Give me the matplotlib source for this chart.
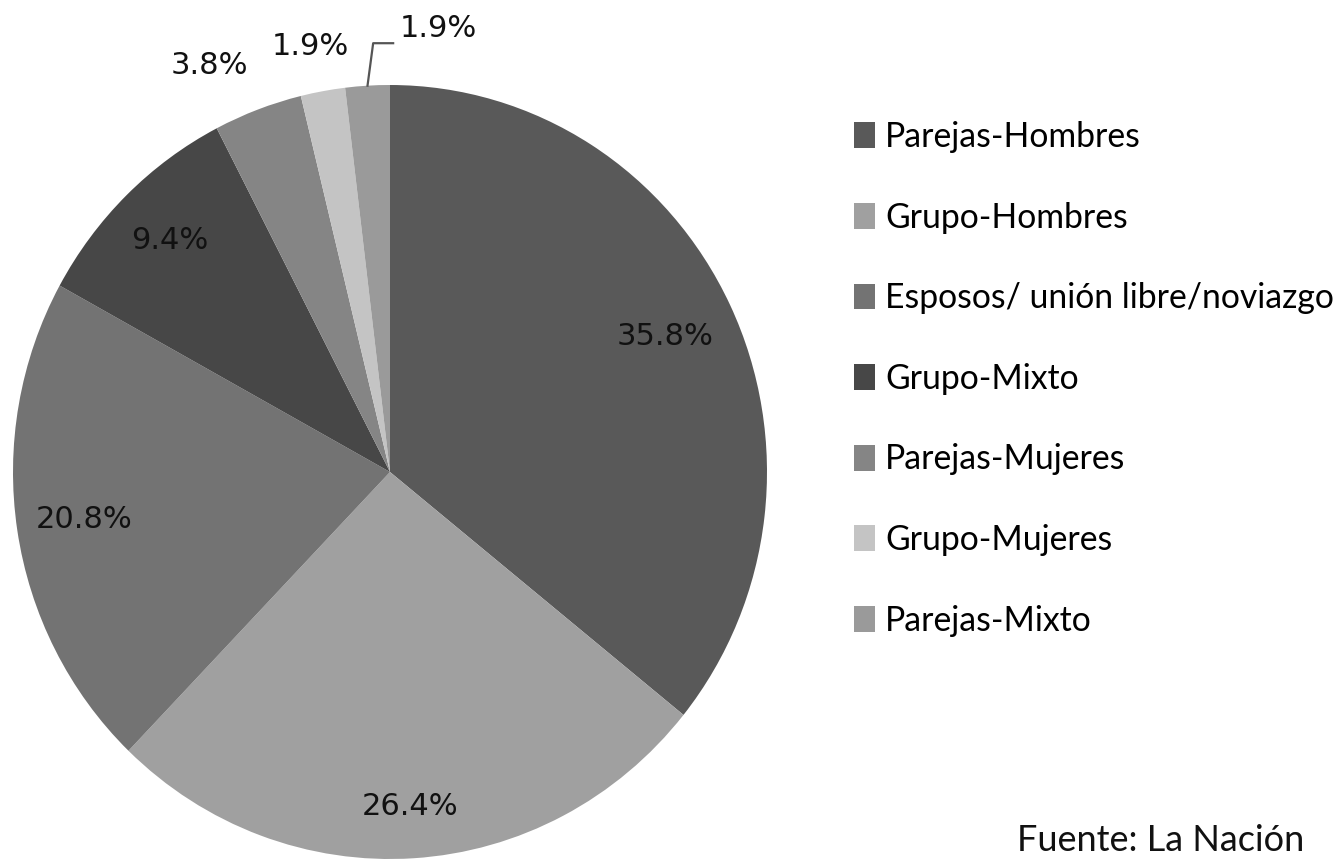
import numpy as np
import matplotlib.pyplot as plt

categories = ['Parejas-Hombres', 'Grupo-Hombres', 'Esposos/ unión libre/noviazgo',
              'Grupo-Mixto', 'Parejas-Mujeres', 'Grupo-Mujeres', 'Parejas-Mixto']
values = [35.8, 26.4, 20.8, 9.4, 3.8, 1.9, 1.9]
colors = ['#595959', '#a0a0a0', '#737373', '#474747', '#858585', '#c4c4c4', '#9a9a9a']

# label distance from centre (in radii) and small angle nudge per slice
label_dist = [0.81, 0.865, 0.82, 0.835, 1.155, 1.12, None]
label_shift = [0, 0, 0, 0, 4, 0.6, 0]

W, H = 1335, 859
fig = plt.figure(figsize=(W / 100, H / 100), dpi=100)
ax = fig.add_axes([13 / W, 0, 754 / W, 774 / H])

wedges, _ = ax.pie(values, colors=colors, startangle=90, counterclock=False,
                   wedgeprops=dict(linewidth=0))
ax.set_aspect('auto')
ax.set_xlim(-1, 1)
ax.set_ylim(-1, 1)
ax.axis('off')

for w, v, d, s in zip(wedges, values, label_dist, label_shift):
    mid = np.deg2rad((w.theta1 + w.theta2) / 2 + s)
    if d is None:
        # last small slice: label with elbow leader line
        x0, y0 = np.cos(mid), np.sin(mid)
        ax.plot([x0, x0 + 0.015, x0 + 0.068], [y0, 1.108, 1.108],
                color='#555555', lw=1.6, clip_on=False)
        ax.text(x0 + 0.085, 1.147, f'{v}%', ha='left', va='center',
                fontsize=22, family='DejaVu Sans', color='#111111')
        continue
    ax.text(d * np.cos(mid), d * np.sin(mid), f'{v}%', ha='center', va='center',
            fontsize=22, family='DejaVu Sans', color='#111111')

leg = fig.legend(wedges, categories, loc='upper left',
                 bbox_to_anchor=(854 / W, 1 - 121 / H), frameon=False,
                 prop={'family': 'Lato', 'size': 24.3},
                 handlelength=0.62, handleheight=0.8, handletextpad=0.3,
                 labelspacing=1.44, borderpad=0, borderaxespad=0)

fig.text(1017 / W, 1 - 851 / H, 'Fuente: La Nación', ha='left', va='baseline',
         fontsize=26, family='Lato', color='#111111')

fig.savefig('out.png', dpi=100)
